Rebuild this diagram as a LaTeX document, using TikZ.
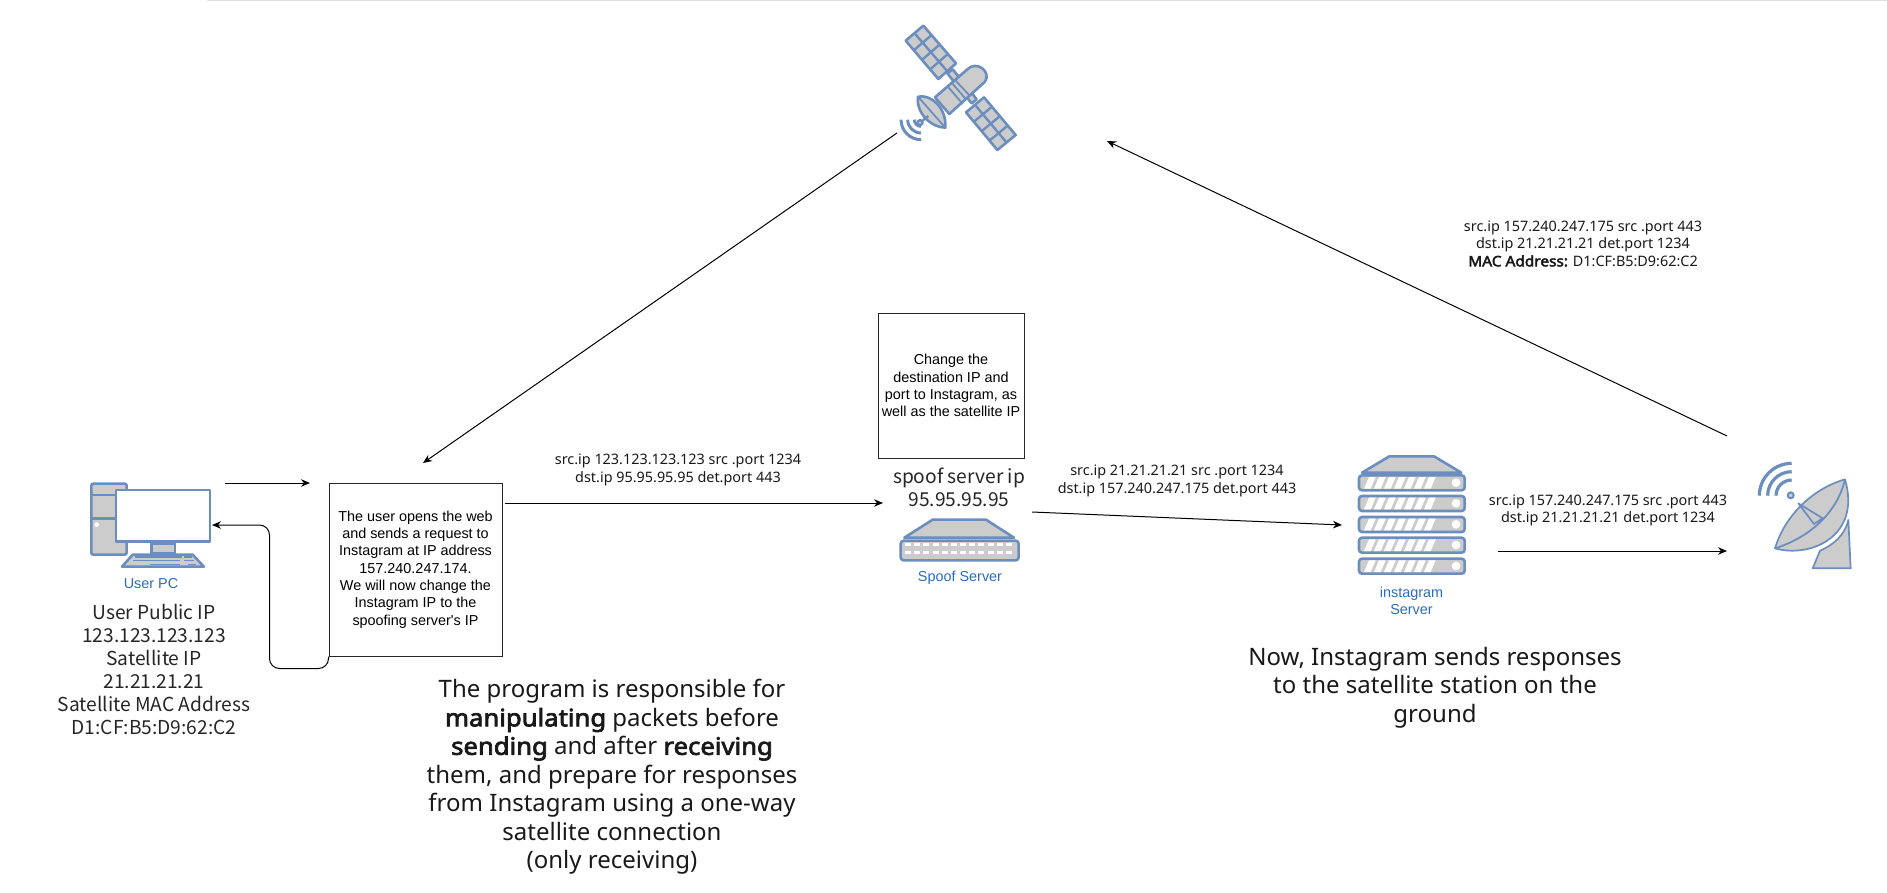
\documentclass[tikz,border=0pt]{standalone}
\usepackage{fontspec}
\newfontfamily\boxfont{Liberation Sans}
\newfontfamily\notefont{Noto Sans}[BoldFont={Noto Sans},BoldFeatures={FakeBold=3,FakeStretch=1.07}]
\newfontfamily\labelfont{Noto Sans CJK SC}
\usetikzlibrary{arrows.meta,calc}
\definecolor{iconline}{HTML}{6C8EBF}
\definecolor{iconfill}{HTML}{CCCCCC}
\definecolor{iconlabel}{HTML}{2A6DB8}
\tikzset{
	icon/.style={draw=iconline, fill=iconfill, line width=2.6pt, line join=round},
	iconthin/.style={draw=iconline, line width=1.8pt},
	wave/.style={draw=iconline, line width=3pt},
	infobox/.style={draw=black!85, line width=1pt, align=center, inner sep=0pt, font=\boxfont\fontsize{14.4}{17.3}\selectfont},
	iconname/.style={text=iconlabel, align=center, font=\boxfont\fontsize{14.4}{17.3}\selectfont},
	bigtext/.style={text=black!85, align=center, font=\labelfont\fontsize{19.2}{23}\selectfont},
	packet/.style={text=black!90, align=center, font=\notefont\fontsize{14.4}{17.6}\selectfont},
	hugetext/.style={text=black!90, align=center, font=\notefont\fontsize{24}{28.5}\selectfont},
}
\newcommand{\solarpanel}[4]{%
	\draw [icon] (#1) -- (#2) -- (#3) -- (#4) -- cycle;
	\foreach \t in {0.25,0.5,0.75} {
		\draw [iconthin, line width=2.4pt] ($(#1)!\t!(#2)$) -- ($(#4)!\t!(#3)$);
	}
	\draw [iconthin, line width=2.4pt] ($(#1)!0.5!(#4)$) -- ($(#2)!0.5!(#3)$);
}
\begin{document}
\begin{tikzpicture}[x=1pt, y=-1pt, >={Stealth[length=9pt,width=7.5pt]}, line width=1pt]
		\useasboundingbox (0,0) rectangle (1887,892);
		\draw [black!12, line width=0.8pt] (207,0.4) -- (1887,0.4);

		% user pc
		\begin{scope}[shift={(60,450)}, scale=1/3]
			\draw [icon, rounded corners=2pt] (94,101) rectangle (200,314);
			\draw [iconthin, line width=2.4pt] (94,135) -- (165,135) (94,205) -- (165,205);
			\fill [white] (110,224) circle (7);
			\draw [icon] (275,280) rectangle (345,310);
			\draw [icon, fill=white] (168,120) rectangle (450,275);
			\draw [icon] (218,314) -- (398,314) -- (432,350) -- (186,350) -- cycle;
			\draw [draw=iconline, line width=1.6pt] (225,321) -- (365,321) (218,332) -- (360,332) (270,343) -- (360,343) (372,321) -- (395,321) (372,332) -- (402,332) (385,343) -- (408,343);
		\end{scope}

		% satellite
		\begin{scope}[shift={(860,10)}, scale=1/3]
			\draw [icon] (262,190) -- (278,178) -- (300,205) -- (284,218) -- cycle;
			\draw [icon] (312,252) -- (328,240) -- (350,268) -- (335,280) -- cycle;
			\solarpanel{190,47}{288,160}{235,207}{137,92}
			\solarpanel{372,262}{467,375}{412,420}{318,307}
			\draw [icon] (225,262) -- (322,178) .. controls (350,150) and (395,185) .. (375,215) -- (268,312) -- cycle;
			\draw [iconthin] (262,228) -- (308,282) (275,218) -- (318,268) (285,210) -- (330,258);
			\draw [icon] (174,260) .. controls (212,252) and (260,292) .. (256,353) .. controls (215,353) and (167,310) .. (174,260) -- cycle;
			\draw [iconthin] (174,260) -- (256,353);
			\draw [iconthin, line width=2.4pt] (205,318) -- (180,338);
			\draw [icon, fill=white] (180,338) circle (7);
			\draw [wave] (123,329) arc (180:90:60) (143,329) arc (180:90:40) (163,329) arc (180:90:20);
		\end{scope}

		% spoof switch
		\begin{scope}[shift={(860,300)}, scale=1/3]
			\draw [icon] (218,659) -- (378,659) -- (462,713) -- (133,713) -- cycle;
			\draw [icon, rounded corners=3pt] (122,722) rectangle (476,781);
			\foreach \n in {0,...,11} {
				\fill [white] ({135+\n*27.5},730) rectangle ++(18,9);
				\fill [white] ({135+\n*27.5},752) rectangle ++(18,9);
			}
		\end{scope}

		% instagram server
		\begin{scope}[shift={(1320,440)}, scale=1/3]
			\draw [icon] (208,49) -- (342,49) -- (424,98) -- (126,98) -- cycle;
			\foreach \y in {103,165,228,290,353} {
				\draw [icon, rounded corners=3pt] (117,\y+3) rectangle (434,\y+48);
				\foreach \n in {0,...,6} {
					\fill [white] ({132+\n*30},\y+43) -- ++(20,0) -- ++(15,-35) -- ++(-20,0) -- cycle;
				}
				\fill [white] (408,\y+25) circle (13);
			}
		\end{scope}

		% ground station
		\begin{scope}[shift={(1720,440)}, scale=1/3]
			\draw [icon, line width=1.7pt] (385,240) -- (392,385) -- (278,385) -- (300,332) .. controls (340,315) and (375,285) .. (385,240) -- cycle;
			\draw [icon, line width=1.7pt] (375,118) .. controls (280,145) and (195,225) .. (165,325) .. controls (270,355) and (425,290) .. (375,118) -- cycle;
			\draw [iconthin] (375,118) .. controls (350,225) and (260,295) .. (165,325);
			\draw [icon, line width=1.7pt] (235,190) -- (308,235) -- (282,252) -- cycle;
			\draw [icon, line width=2pt] (212,166) circle (9);
			\draw [wave, line width=3.2pt] (118,167) arc (180:270:97) (143,167) arc (180:270:72) (168,167) arc (180:270:47);
		\end{scope}

		\node (PcName) at (151,584) [iconname] {User PC};
		\node (PcInfo) at (154,669.5) [bigtext] {User Public IP\\123.123.123.123\\Satellite IP\\21.21.21.21\\Satellite MAC Address\\D1:CF:B5:D9:62:C2};
		\node (UserBox) at (415.5,569.5) [infobox, minimum width=173, minimum height=173] {The user opens the web\\and sends a request to\\Instagram at IP address\\157.240.247.174.\\We will now change the\\Instagram IP to the\\spoofing server's IP};
		\node (ChangeBox) at (951,385.5) [infobox, minimum width=146, minimum height=145] {Change the\\destination IP and\\port to Instagram, as\\well as the satellite IP};
		\node (SpoofInfo) at (959,487) [bigtext] {spoof server ip\\95.95.95.95};
		\node (SpoofName) at (960,578) [iconname] {Spoof Server};
		\node (InstaName) at (1411.5,601) [iconname] {instagram\\Server};

		\node (PacketA) at (678,470) [packet] {src.ip 123.123.123.123 src .port 1234\\dst.ip 95.95.95.95 det.port 443};
		\node (PacketB) at (1177,481) [packet] {src.ip 21.21.21.21 src .port 1234\\dst.ip 157.240.247.175 det.port 443};
		\node (PacketC) at (1608,510.5) [packet] {src.ip 157.240.247.175 src .port 443\\dst.ip 21.21.21.21 det.port 1234};
		\node (PacketD) at (1583,243.5) [packet] {src.ip 157.240.247.175 src .port 443\\dst.ip 21.21.21.21 det.port 1234\\\textbf{MAC Address:} D1:CF:B5:D9:62:C2};

		\node (ProgramText) at (612,777) [hugetext] {The program is responsible for\\\textbf{manipulating} packets before\\\textbf{sending} and after \textbf{receiving}\\them, and prepare for responses\\from Instagram using a one-way\\satellite connection\\(only receiving)};
		\node (GroundText) at (1435,687.5) [hugetext] {Now, Instagram sends responses\\to the satellite station on the\\ground};

		\coordinate (PcOut) at (225,483);
		\coordinate (UserIn) at (310,483);
		\coordinate (PcIn) at (212,525);
		\coordinate (UserOut) at (505,503);
		\coordinate (SpoofIn) at (883,503);
		\coordinate (SpoofOut) at (1032,512);
		\coordinate (InstaIn) at (1342,525);
		\coordinate (InstaOut) at (1498,551);
		\coordinate (DishIn) at (1727,551);
		\coordinate (DishOut) at (1727,436);
		\coordinate (SatIn) at (1107,141);
		\coordinate (SatOut) at (897,133);
		\coordinate (UserTop) at (423,463);

		\draw [->] (PcOut) -> (UserIn);
		\draw [->, rounded corners=10pt] (UserBox.south west) -- ++(0,12) -- ++(-59,0) |- (PcIn);
		\draw [->] (UserOut) -> (SpoofIn);
		\draw [->] (SpoofOut) -> (InstaIn);
		\draw [->] (InstaOut) -> (DishIn);
		\draw [->] (DishOut) -> (SatIn);
		\draw [->] (SatOut) -> (UserTop);
		\end{tikzpicture}
\end{document}
